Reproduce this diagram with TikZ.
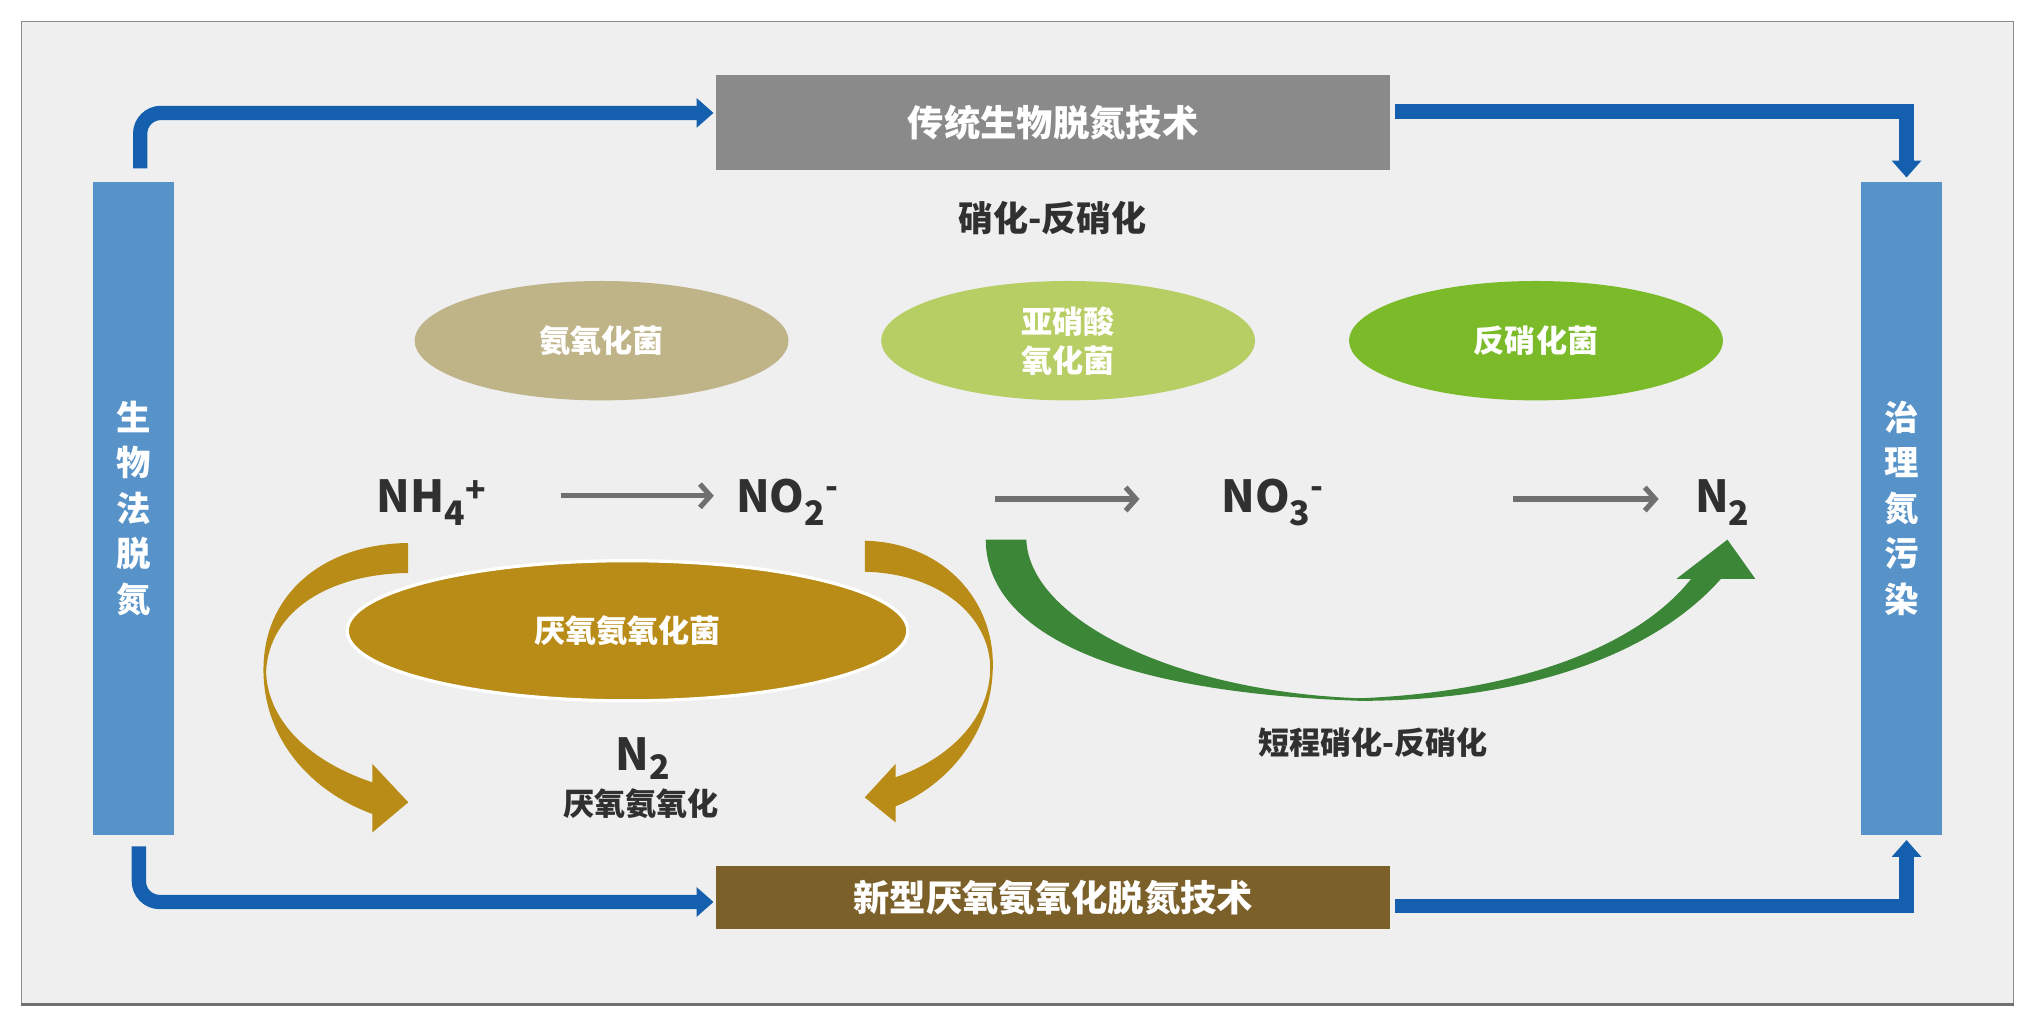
\documentclass[tikz,border=0pt]{standalone}
\usepackage{fontspec}
\setmainfont{Noto Sans CJK SC}
\usetikzlibrary{arrows.meta,shapes.geometric}
\definecolor{framebg}{HTML}{EFEFEF}
\definecolor{framebd}{HTML}{8C8C8C}
\definecolor{barblue}{HTML}{5793C9}
\definecolor{arrblue}{HTML}{1560AE}
\definecolor{boxgray}{HTML}{8A8A8A}
\definecolor{boxbrown}{HTML}{7B6029}
\definecolor{ellA}{HTML}{BFB388}
\definecolor{ellB}{HTML}{B6CE63}
\definecolor{ellC}{HTML}{7BBB2A}
\definecolor{goldc}{HTML}{B98C17}
\definecolor{greenarr}{HTML}{3C8737}
\definecolor{darktxt}{HTML}{303030}
\definecolor{arrgray}{HTML}{707070}
\newcommand\myfs[2]{\fontsize{#1}{#2}\selectfont}
\newcommand\chsub[1]{\raisebox{-0.28em}{\myfs{26}{26}#1}}
\newcommand\chsubs[1]{\raisebox{-0.2em}{\myfs{26}{26}#1}}
\newcommand\chsup[1]{\raisebox{0.22em}{\myfs{26}{26}#1}}
\newcommand\chsupm[1]{\raisebox{0.32em}{\myfs{26}{26}#1}}
\begin{document}
\begin{tikzpicture}[x=1pt,y=-1pt,
  barbox/.style={fill=barblue, minimum width=62pt, minimum height=503pt, inner sep=0pt, text=white, align=center, font=\bfseries\myfs{26.5}{35}},
  techbox/.style={minimum width=519pt, inner sep=0pt, text=white, font=\bfseries\myfs{28}{28}},
  bugell/.style={ellipse, minimum width=288pt, minimum height=92pt, inner sep=0pt, text=white, align=center, font=\bfseries\myfs{24}{30}},
  chem/.style={inner sep=0pt, text=darktxt, font=\bfseries\myfs{34}{34}},
  lbl/.style={inner sep=0pt, text=darktxt},
  bluearr/.style={draw=arrblue, line width=11pt, -{Triangle[length=13pt,width=22pt]}},
  grayarr/.style={draw=arrgray, line width=4pt, -{Straight Barb[length=8pt,width=18pt]}}
]
\useasboundingbox (0,0) rectangle (1568,790.6);
\fill[white] (0,0) rectangle (1568,790.6);
\draw[fill=framebg, draw=framebd, line width=1pt] (16.5,16.7) rectangle (1551.5,773.6);
\draw[framebd!80!black, line width=2.5pt] (16.5,774) -- (1551.5,774);

% side bars
\node[barbox] (lb) at (103,391.5) {生\\物\\法\\脱\\氮};
\node[barbox] (rb) at (1465,391.5) {治\\理\\氮\\污\\染};

% technology boxes
\node[techbox, fill=boxgray, minimum height=73pt] (tb) at (811.5,94.5) {传统生物脱氮技术};
\node[techbox, fill=boxbrown, minimum height=49pt] (bb) at (811.5,691.5) {新型厌氧氨氧化脱氮技术};

% blue connectors
\draw[bluearr, rounded corners=16pt] ([xshift=5pt,yshift=10pt]lb.north) |- ([xshift=-2pt,yshift=7.5pt]tb.west);
\draw[bluearr] ([xshift=4pt,yshift=8.5pt]tb.east) -| ([xshift=4pt,yshift=3pt]rb.north);
\draw[bluearr, rounded corners=16pt] ([xshift=4pt,yshift=-9pt]lb.south) |- ([xshift=-2pt,yshift=-3.5pt]bb.west);
\draw[bluearr] ([xshift=4pt,yshift=-6.5pt]bb.east) -| ([xshift=4pt,yshift=-4pt]rb.south);

% label
\node[lbl, font=\bfseries\myfs{27}{27}] (nitr) at (811,168) {硝化-反硝化};

% bacteria ellipses
\node[bugell, fill=ellA] (e1) at (463.5,262.5) {氨氧化菌};
\node[bugell, fill=ellB] (e2) at (823,262.5) {亚硝酸\\氧化菌};
\node[bugell, fill=ellC] (e3) at (1183.5,262.5) {反硝化菌};

% chemical species
\node[chem, anchor=base west] (nh4) at (290,395) {NH\chsub{4}\chsup{+}};
\node[chem, anchor=base west] (no2) at (567,395) {NO\chsub{2}\chsupm{-}};
\node[chem, anchor=base west] (no3) at (941,395) {NO\chsub{3}\chsupm{-}};
\node[chem, anchor=base west] (n2r) at (1306,395) {N\chsub{2}};

\coordinate (g1s) at (432,382);   \coordinate (g1e) at (550,382);
\coordinate (g2s) at (767,384.5); \coordinate (g2e) at (878,384.5);
\coordinate (g3s) at (1166,384.5);\coordinate (g3e) at (1278,384.5);
\draw[grayarr] (g1s) -- (g1e);
\draw[grayarr] (g2s) -- (g2e);
\draw[grayarr] (g3s) -- (g3e);

% gold curved arrows
\fill[goldc] (314.5,418.4) .. controls (250,419) and (203,457) .. (203,516)
  .. controls (203,570) and (240,610) .. (287,627.2)
  -- (287,641.3) -- (314.6,618.2) -- (287,588.7) -- (287,602.8)
  .. controls (248,590) and (207,562) .. (205,518)
  .. controls (207,470) and (255,442) .. (314.5,441.5) -- cycle;
\fill[goldc] (666.3,416.6) .. controls (725,418) and (765,460) .. (765,512)
  .. controls (765,565) and (730,605) .. (690,621.3)
  -- (690,633.6) -- (666.3,614.4) -- (690,588.7) -- (690,598.9)
  .. controls (730,585) and (763,555) .. (763,514)
  .. controls (762,475) and (725,442) .. (666.3,440.5) -- cycle;

% anammox ellipse
\node[ellipse, fill=goldc, draw=white, line width=2.5pt, minimum width=432pt, minimum height=108pt, inner sep=0pt, text=white, font=\bfseries\myfs{24}{24}] (ana) at (483.5,486) {厌氧氨氧化菌};

% green short-cut arrow
\fill[greenarr] (759.5,415.8) .. controls (760,482) and (845,533) .. (1048,540)
  .. controls (1170,540) and (1272,507) .. (1326,446)
  -- (1352.5,446) -- (1331,415.8) -- (1291.7,446) -- (1303,446)
  .. controls (1262,498) and (1170,533) .. (1048,538)
  .. controls (905,533) and (793,477) .. (790.8,415.8) -- cycle;

% lower labels
\node[chem, anchor=base] (n2c) at (495,594) {N\chsubs{2}};
\node[lbl, font=\bfseries\myfs{24}{24}] (anal) at (494,619) {厌氧氨氧化};
\node[lbl, font=\bfseries\myfs{24}{24}] (scnd) at (1058,572) {短程硝化-反硝化};
\end{tikzpicture}
\end{document}
